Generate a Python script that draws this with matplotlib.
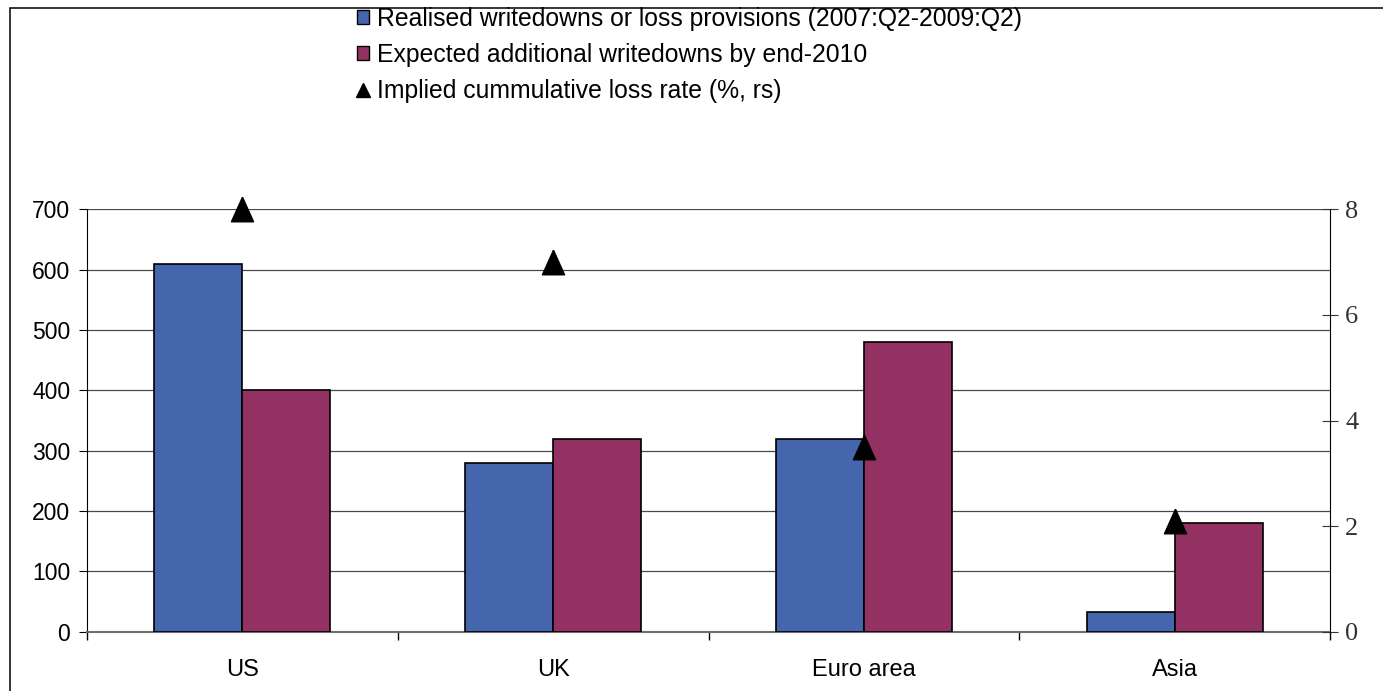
import matplotlib
matplotlib.use("Agg")
import matplotlib.pyplot as plt
from matplotlib.patches import Rectangle
from matplotlib.lines import Line2D
import numpy as np

categories = ["US", "UK", "Euro area", "Asia"]
realised = [610, 280, 320, 32]
expected = [400, 320, 480, 180]
loss_rate = [8.0, 7.0, 3.5, 2.1]

left_ticks = [0, 100, 200, 300, 400, 500, 600, 700]
right_ticks = [0, 2, 4, 6, 8]

labels = [
    "Realised writedowns or loss provisions (2007:Q2-2009:Q2)",
    "Expected additional writedowns by end-2010",
    "Implied cummulative loss rate (%, rs)",
]

BLUE = "#4565AD"
PLUM = "#933262"
SANS = ["Liberation Sans", "DejaVu Sans"]
SERIF = ["Liberation Serif", "DejaVu Serif"]

W, H = 1383, 691
fig = plt.figure(figsize=(W / 100, H / 100), dpi=100)
ax = fig.add_axes([87 / W, 1 - 631.7 / H, (1330 - 87) / W, (631.7 - 209.3) / H])

x = np.arange(len(categories))
bw = 0.283
ax.bar(x - bw / 2, realised, bw, color=BLUE, edgecolor="black", linewidth=1.2, zorder=3)
ax.bar(x + bw / 2, expected, bw, color=PLUM, edgecolor="black", linewidth=1.2, zorder=3)

ax.set_xlim(-0.5, len(categories) - 0.5)
ax.set_ylim(0, 700)
ax.set_yticks(left_ticks)
ax.yaxis.grid(True, color="#4a4a4a", linewidth=0.9)
ax.set_axisbelow(True)
ax.tick_params(axis="y", direction="out", length=6, width=0.8, color="black", pad=6)
for lab in ax.get_yticklabels():
    lab.set_fontfamily(SANS)
    lab.set_fontsize(16.5)

ax.set_xticks(x)
ax.set_xticklabels(categories, fontfamily=SANS, fontsize=17)
ax.tick_params(axis="x", length=0, pad=20)
ax.set_xticks(np.arange(-0.5, len(categories) + 0.5, 1.0), minor=True)
ax.tick_params(axis="x", which="minor", direction="out", length=6, width=1.0, color="black")

ax.spines["top"].set_visible(False)
ax.spines["right"].set_visible(False)
ax.spines["left"].set_linewidth(0.8)
ax.spines["bottom"].set_color("#6e6e6e")
ax.spines["bottom"].set_linewidth(1.5)

ax2 = ax.twinx()
ax2.set_ylim(0, 8)
ax2.set_yticks(right_ticks)
ax2.tick_params(axis="y", direction="inout", length=12, width=0.8, pad=5, colors="#333333")
for lab in ax2.get_yticklabels():
    lab.set_fontfamily(SERIF)
    lab.set_fontsize(19)
for s in ["top", "left", "bottom"]:
    ax2.spines[s].set_visible(False)
ax2.spines["right"].set_linewidth(0.8)

tri = [(0, 1), (-0.9, -1), (0.9, -1), (0, 1)]
ax2.plot(x, loss_rate, linestyle="none", marker=tri, markersize=17.7,
         color="black", zorder=5, clip_on=False)

handles = [
    Rectangle((0, 0), 1, 1, facecolor=BLUE, edgecolor="black", linewidth=1.0),
    Rectangle((0, 0), 1, 1, facecolor=PLUM, edgecolor="black", linewidth=1.0),
    Line2D([], [], linestyle="none", marker="^", markersize=10.5, color="black"),
]
fig.legend(handles, labels, loc="upper left", bbox_to_anchor=(357 / W, 1 - 7 / H),
           frameon=False, prop={"family": SANS, "size": 17.8},
           handlelength=0.49, handleheight=0.49, handletextpad=0.32,
           labelspacing=0.49, borderpad=0, borderaxespad=0)

fig.add_artist(Rectangle((9.5 / W, -0.05), 1.1, 1.05 - 8 / H, transform=fig.transFigure,
                         fill=False, edgecolor="black", linewidth=1.1))

fig.savefig("out.png", dpi=100)
